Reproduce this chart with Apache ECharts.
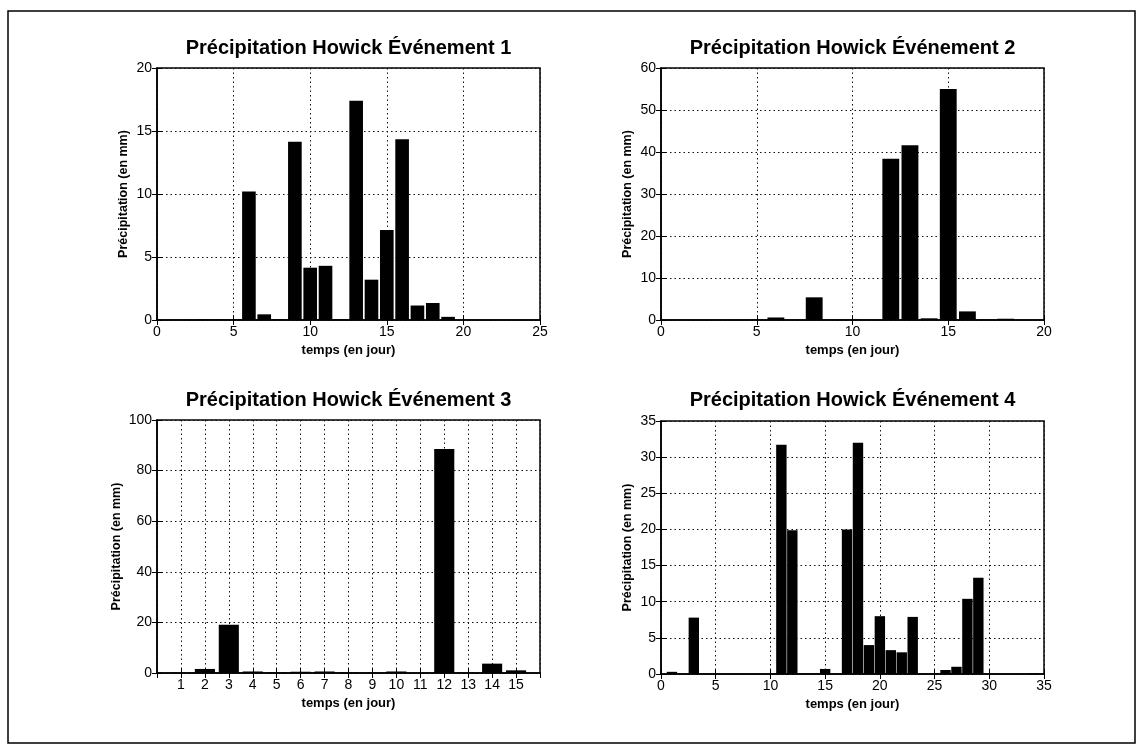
<!DOCTYPE html>
<html>
<head>
<meta charset="utf-8">
<script src="https://cdn.jsdelivr.net/npm/echarts@6/dist/echarts.min.js"></script>
<style>
html,body{margin:0;padding:0;background:#fff;}
#chart{width:1143px;height:750px;}
</style>
</head>
<body>
<div id="chart"></div>
<script>
// ---- Data ----
const titles = [
  'Précipitation Howick Événement 1',
  'Précipitation Howick Événement 2',
  'Précipitation Howick Événement 3',
  'Précipitation Howick Événement 4'
];
const xAxisName = 'temps (en jour)';
const yAxisName = 'Précipitation (en mm)';

const days1 = [1,2,3,4,5,6,7,8,9,10,11,12,13,14,15,16,17,18,19,20,21,22,23,24];
const precip1 = [0.02,0.03,0.05,0.05,0.05,10.2,0.45,0.05,14.15,4.15,4.3,0.05,17.4,3.2,7.15,14.35,1.15,1.35,0.25,0,0,0,0,0];

const days2 = [1,2,3,4,5,6,7,8,9,10,11,12,13,14,15,16,17,18,19];
const precip2 = [0,0,0,0.05,0.1,0.6,0.05,5.4,0.1,0.1,0.05,38.4,41.6,0.4,55.0,2.05,0.1,0.3,0];

const days3 = [1,2,3,4,5,6,7,8,9,10,11,12,13,14,15];
const precip3 = [0.1,1.6,19.1,0.6,0.2,0.5,0.6,0.2,0.1,0.6,0,88.5,0.1,3.7,1.05];

const days4 = [1,2,3,4,5,6,7,8,9,10,11,12,13,14,15,16,17,18,19,20,21,22,23,24,25,26,27,28,29,30,31,32,33,34];
const precip4 = [0.3,0,7.8,0,0,0,0,0,0,0,31.7,19.9,0.05,0.05,0.7,0,20.0,32.0,4.0,8.0,3.3,3.0,7.9,0,0,0.55,1.0,10.4,13.3,0,0,0,0,0.1];

// axis ranges / tick steps
const xRanges = [[0,25,5],[0,20,5],[0,16,1],[0,35,5]];
const yRanges = [[0,20,5],[0,60,10],[0,100,20],[0,35,5]];
const barWidths = ['89%','88%','84%','95%'];

// ---- Layout ----
const FONT = '"Liberation Sans", Arial, Helvetica, sans-serif';
const grids = [
  {left:157, top:68, width:383, height:252},
  {left:661, top:68, width:383, height:252},
  {left:157, top:420, width:383, height:253},
  {left:661, top:421, width:383, height:253}
];
const yNameGaps = [27, 27, 34, 27];
const titleY = [48, 48, 400, 400];

const allDays = [days1, days2, days3, days4];
const allPrecip = [precip1, precip2, precip3, precip4];

const gridLine = {show:true, lineStyle:{color:'#111', type:[1.5,3], width:1}};
const tickStyle = {inside:true, length:5, lineStyle:{color:'#000', width:1}};

const xAxes = [], yAxes = [], series = [], graphics = [];
grids.forEach((g, i) => {
  const xr = xRanges[i], yr = yRanges[i];
  xAxes.push({
    gridIndex:i, type:'value', position:'bottom',
    min:xr[0], max:xr[1], interval:xr[2],
    axisLine:{show:true, onZero:false, lineStyle:{color:'#000', width:1.5}},
    axisTick:tickStyle,
    axisLabel:{
      color:'#000', fontSize:14, fontFamily:FONT, margin:5,
      showMinLabel: i !== 2, showMaxLabel: i !== 2,
      formatter: i === 2 ? (v => (v >= 1 && v <= 15) ? String(v) : '') : null
    },
    splitLine:gridLine,
    name:xAxisName, nameLocation:'middle', nameGap:24,
    nameTextStyle:{color:'#000', fontSize:13, fontWeight:'bold', fontFamily:FONT}
  });
  // mirrored top axis (ticks only)
  xAxes.push({
    gridIndex:i, type:'value', position:'top',
    min:xr[0], max:xr[1], interval:xr[2],
    axisLine:{show:false}, axisTick:tickStyle, axisLabel:{show:false}, splitLine:{show:false}
  });
  yAxes.push({
    gridIndex:i, type:'value', position:'left',
    min:yr[0], max:yr[1], interval:yr[2],
    axisLine:{show:true, onZero:false, lineStyle:{color:'#000', width:1.5}},
    axisTick:tickStyle,
    axisLabel:{color:'#000', fontSize:14, fontFamily:FONT, margin:5},
    splitLine:gridLine,
    name:yAxisName, nameLocation:'middle', nameGap:yNameGaps[i],
    nameTextStyle:{color:'#000', fontSize:12.5, fontWeight:'bold', fontFamily:FONT}
  });
  yAxes.push({
    gridIndex:i, type:'value', position:'right',
    min:yr[0], max:yr[1], interval:yr[2],
    axisLine:{show:false}, axisTick:tickStyle, axisLabel:{show:false}, splitLine:{show:false}
  });
  series.push({
    type:'bar',
    xAxisIndex:2*i, yAxisIndex:2*i,
    data: allDays[i].map((d, k) => [d, allPrecip[i][k]]),
    barWidth: barWidths[i],
    itemStyle:{color:'#000'},
    silent:true, animation:false
  });
  graphics.push({
    type:'text',
    x: g.left + g.width/2, y: titleY[i],
    style:{
      text:titles[i], fill:'#000',
      fontSize:20, fontWeight:'bold', fontFamily:FONT,
      textAlign:'center', textVerticalAlign:'middle'
    }
  });
});

// outer frame
graphics.push({
  type:'rect',
  shape:{x:8, y:11, width:1127, height:732},
  style:{fill:'none', stroke:'#000', lineWidth:1.5},
  silent:true
});

const chart = echarts.init(document.getElementById('chart'), null, {renderer:'canvas'});
chart.setOption({
  backgroundColor:'#fff',
  animation:false,
  grid: grids.map(g => Object.assign({show:true, borderColor:'#000', borderWidth:1.5, backgroundColor:'transparent', containLabel:false}, g)),
  xAxis:xAxes,
  yAxis:yAxes,
  series:series,
  graphic:graphics
});
</script>
</body>
</html>
